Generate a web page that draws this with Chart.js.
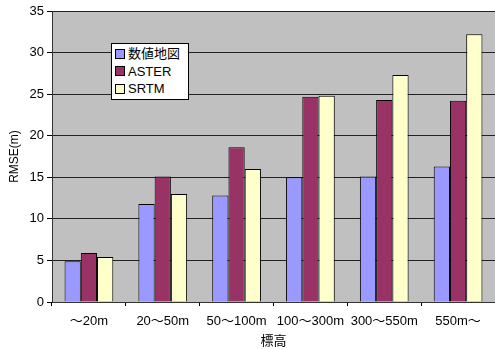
<!DOCTYPE html>
<html>
<head>
<meta charset="utf-8">
<script src="https://cdn.jsdelivr.net/npm/chart.js@4"></script>
<style>
  html, body { margin: 0; padding: 0; background: #fff; }
  #wrap { position: relative; width: 495px; height: 349px; }
  #legend {
    position: absolute; left: 111px; top: 43px; width: 78px;
    background: #fff; border: 1px solid #000;
    font-family: "Liberation Sans", "Noto Sans CJK JP", sans-serif; font-size: 13px;
    padding: 1px 0 1px 3px; box-sizing: border-box;
  }
  #legend div { height: 17.5px; line-height: 17px; display: flex; align-items: center; }
  #legend span.box { width: 8px; height: 8px; border: 1px solid #000; margin-right: 3px; flex: none; }
</style>
</head>
<body>
<div id="wrap">
  <canvas id="chart" width="495" height="349"></canvas>
  <div id="legend"></div>
</div>
<script>
// --- data ---
const categories = ['～20m', '20～50m', '50～100m', '100～300m', '300～550m', '550m～'];
const seriesNames = ['数値地図', 'ASTER', 'SRTM'];
const suuchiValues = [4.9, 11.8, 12.8, 15.0, 15.1, 16.3];
const asterValues = [5.9, 15.1, 18.6, 24.7, 24.3, 24.2];
const srtmValues = [5.4, 13.0, 16.0, 24.8, 27.3, 32.2];
const seriesColors = ['#9999ff', '#993366', '#ffffcc'];

const fontFamily = '"Liberation Sans", "Noto Sans CJK JP", sans-serif';

// gray plot background
const plotBg = {
    id: 'plotBg',
    beforeDraw(chart) {
        const a = chart.chartArea;
        const ctx = chart.ctx;
        ctx.save();
        ctx.fillStyle = '#c0c0c0';
        ctx.fillRect(a.left, a.top, a.right - a.left, a.bottom - a.top);
        ctx.restore();
    }
};

const ctx = document.getElementById('chart').getContext('2d');
new Chart(ctx, {
    type: 'bar',
    data: {
        labels: categories,
        datasets: [suuchiValues, asterValues, srtmValues].map((vals, i) => ({
            label: seriesNames[i],
            data: vals,
            backgroundColor: seriesColors[i],
            borderColor: '#000',
            borderWidth: 1,
            borderSkipped: 'bottom',
            categoryPercentage: 0.66,
            barPercentage: 1.0
        }))
    },
    options: {
        responsive: false,
        animation: false,
        layout: { padding: { top: 11, right: 0, left: 0, bottom: 0 } },
        plugins: { legend: { display: false }, tooltip: { enabled: false } },
        scales: {
            y: {
                min: 0, max: 35,
                ticks: { stepSize: 5, color: '#000', padding: 3, font: { family: fontFamily, size: 13 } },
                grid: { color: '#222', lineWidth: 1, drawTicks: true, tickLength: 5, tickColor: '#000' },
                border: { display: true, color: '#333', width: 1 },
                title: { display: true, text: 'RMSE(m)', color: '#000', padding: { top: 7, bottom: 0 }, font: { family: fontFamily, size: 12 } },
                afterFit(scale) { scale.width = 52; }
            },
            x: {
                ticks: { color: '#000', padding: 8, font: { family: fontFamily, size: 13 }, maxRotation: 0, autoSkip: false },
                grid: { offset: true, drawOnChartArea: false, drawTicks: true, tickLength: 4, tickColor: '#000' },
                border: { display: true, color: '#333', width: 1 },
                title: { display: true, text: '標高', color: '#000', padding: { top: 0, bottom: 0 }, font: { family: fontFamily, size: 13 } },
                afterFit(scale) { scale.height = 47; }
            }
        }
    },
    plugins: [plotBg]
});

// legend box inside the plot
const legendEl = document.getElementById('legend');
seriesNames.forEach((name, i) => {
    const row = document.createElement('div');
    row.innerHTML = `<span class="box" style="background:${seriesColors[i]}"></span>${name}`;
    legendEl.appendChild(row);
});
</script>
</body>
</html>
